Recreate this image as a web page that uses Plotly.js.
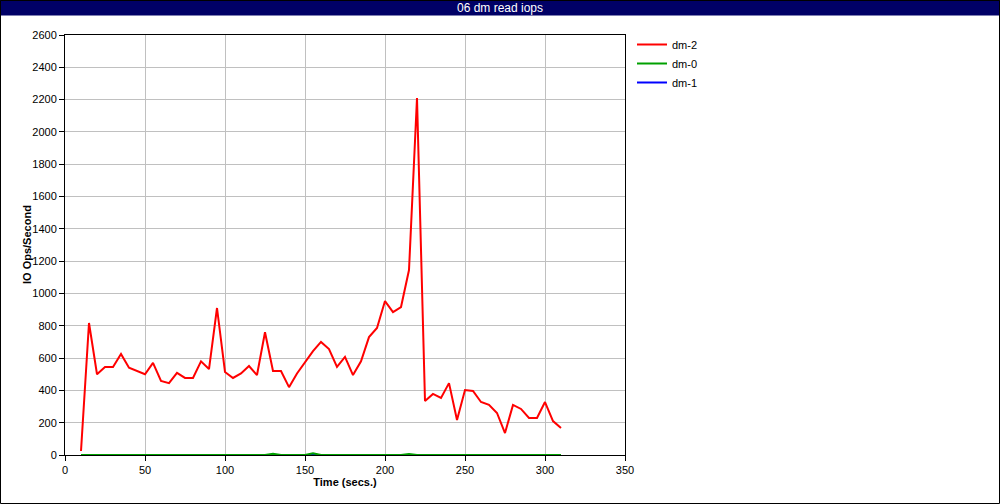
<!DOCTYPE html>
<html>
<head>
<meta charset="utf-8">
<script src="https://cdn.plot.ly/plotly-3.0.1.min.js"></script>
<style>
html,body{margin:0;padding:0;background:#fff;}
#chart{width:1000px;height:504px;}
</style>
</head>
<body>
<div id="chart"></div>
<script>
const time = [10,15,20,25,30,35,40,45,50,55,60,65,70,75,80,85,90,95,100,105,110,115,120,125,130,135,140,145,150,155,160,165,170,175,180,185,190,195,200,205,210,215,220,225,230,235,240,245,250,255,260,265,270,275,280,285,290,295,300,305,310];
const dm2 = [25,817,500,545,545,625,540,520,500,570,458,445,508,477,477,580,532,910,514,477,505,551,495,760,520,520,420,505,575,643,700,656,545,607,495,580,730,786,953,885,916,1145,2210,334,378,353,445,217,402,396,328,310,260,136,310,285,229,229,328,210,167];
const dm0 = [0,0,0,0,0,0,0,0,0,0,0,0,0,0,0,0,0,0,0,0,0,0,0,0,8,0,0,0,0,10,0,0,0,0,0,0,0,0,0,0,0,6,0,0,0,0,0,0,0,0,0,0,0,0,0,0,0,0,0,0,0];
const dm1 = [0,0,0,0,0,0,0,0,0,0,0,0,0,0,0,0,0,0,0,0,0,0,0,0,0,0,0,0,0,0,0,0,0,0,0,0,0,0,0,0,0,0,0,0,0,0,0,0,0,0,0,0,0,0,0,0,0,0,0,0,0];
const seriesNames = ["dm-2","dm-0","dm-1"];
const chartTitle = "06 dm read iops";
const xTitle = "Time (secs.)";
const yTitle = "IO Ops/Second";

const W=1000,H=504,L=65,R=375,T=35,B=49;
const pw=W-L-R, ph=H-T-B;
const px = v => (v-L)/pw;
const py = v => (H-B-v)/ph;

const traces = [
  {x:time,y:dm1,name:seriesNames[2],mode:'lines',line:{color:'#0000ff',width:2},legendrank:3},
  {x:time,y:dm0,name:seriesNames[1],mode:'lines',line:{color:'#00a000',width:2},legendrank:2},
  {x:time,y:dm2,name:seriesNames[0],mode:'lines',line:{color:'#ff0000',width:2},legendrank:1}
];

const font = {family:'"Liberation Sans", Arial, sans-serif', size:11, color:'#000'};

const layout = {
  width:W,height:H,
  margin:{l:L,r:R,t:T,b:B,pad:0},
  paper_bgcolor:'#fff',plot_bgcolor:'#fff',
  font:font,
  showlegend:true,
  legend:{x:px(632),y:py(30),xanchor:'left',yanchor:'top',font:{family:font.family,size:11,color:'#000'},bgcolor:'rgba(0,0,0,0)',traceorder:'normal'},
  title:{text:chartTitle,font:{family:font.family,size:12,color:'#fff'},x:0.5,xref:'container',xanchor:'center',y:1-7.5/H,yref:'container',yanchor:'middle'},
  xaxis:{range:[0,350],dtick:50,tick0:0,showgrid:true,gridcolor:'#c0c0c0',gridwidth:1,zeroline:false,
    showline:true,linecolor:'#000',linewidth:1,mirror:true,ticks:'outside',ticklen:5,tickcolor:'#000',
    tickfont:font,title:{text:xTitle,font:{family:font.family,size:11,color:'#000',weight:'bold'},standoff:3}},
  yaxis:{range:[0,2600],dtick:200,tick0:0,showgrid:true,gridcolor:'#c0c0c0',gridwidth:1,zeroline:false,
    showline:true,linecolor:'#000',linewidth:1,mirror:true,ticks:'outside',ticklen:5,tickcolor:'#000',
    tickfont:font},
  annotations:[
    {text:yTitle,xref:'paper',yref:'paper',x:px(27),y:0.5,xanchor:'center',yanchor:'middle',textangle:-90,showarrow:false,
     font:{family:font.family,size:11,color:'#000',weight:'bold'}}
  ],
  shapes:[
    {type:'rect',xref:'paper',yref:'paper',x0:px(0),x1:px(W),y0:py(15.5),y1:py(0),fillcolor:'#000066',line:{width:0},layer:'below'},
    {type:'rect',xref:'paper',yref:'paper',x0:px(0.5),x1:px(W-0.5),y0:py(H-0.5),y1:py(0.5),fillcolor:'rgba(0,0,0,0)',line:{color:'#000',width:1},layer:'above'}
  ]
};

Plotly.newPlot('chart',traces,layout,{staticPlot:true,displayModeBar:false});
</script>
</body>
</html>
